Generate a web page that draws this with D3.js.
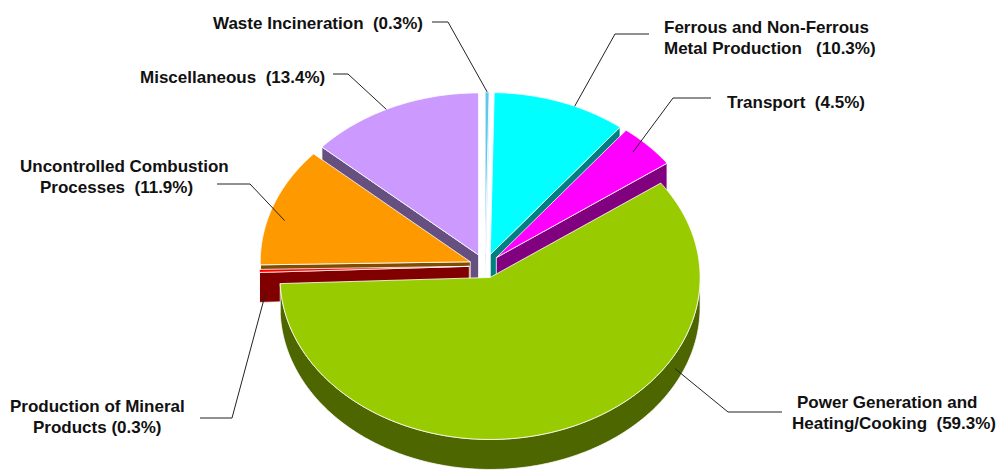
<!DOCTYPE html>
<html>
<head>
<meta charset="utf-8">
<script src="https://cdn.jsdelivr.net/npm/d3@7"></script>
<style>
  body { margin: 0; background: #fff; }
  .lbl { font-family: "Liberation Sans", Arial, sans-serif; font-weight: bold; font-size: 17px; fill: #111; white-space: pre; }
</style>
</head>
<body>
<div class="piechart"></div>
<script>
// slice data, clockwise from 12 o'clock
const categories = ["Waste Incineration", "Ferrous and Non-Ferrous Metal Production", "Transport",
  "Power Generation and Heating/Cooking", "Production of Mineral Products",
  "Uncontrolled Combustion Processes", "Miscellaneous"];
const shares = [0.3, 10.3, 4.5, 59.3, 0.3, 11.9, 13.4];
const topColors = ["#5fc8f0", "#00ffff", "#ff00ff", "#99cc00", "#ff0000", "#ff9900", "#cc99ff"];
const sideColors = ["#1f8fc0", "#008080", "#800080", "#4d6600", "#800000", "#804c00", "#665080"];

// label text: lines, last line gets the percentage
const labelLines = [["Waste Incineration"], ["Ferrous and Non-Ferrous", "Metal Production"], ["Transport"],
  ["Power Generation and", "Heating/Cooking"], ["Production of Mineral", "Products"],
  ["Uncontrolled Combustion", "Processes"], ["Miscellaneous"]];
const labelGaps = ["  ", "   ", "  ", "  ", " ", "  ", "  "];

// label layout: where the leader touches the slice, elbow, tail and text lines
const labelLayout = [
  { t: 0.5, f: 1.0, dz: 0, elbow: [448, 22], tail: [432, 22], lines: [[213, 29]] },
  { t: 0.61, f: 1.0, dz: 0, elbow: [615, 34], tail: [649, 34], lines: [[664, 33], [664, 54]] },
  { t: 0.42, f: 0.92, dz: 0, elbow: [673, 98], tail: [711, 98], lines: [[727, 108]] },
  { t: 0.30, f: 1.0, dz: 14, elbow: [728, 412], tail: [782, 412], lines: [[797, 408], [792, 429]] },
  { t: 0.5, f: 0.97, dz: 22, elbow: [232, 418], tail: [200, 418], lines: [[10, 412], [33, 433]] },
  { t: 0.40, f: 0.92, dz: 0, elbow: [250, 184], tail: [217, 184], lines: [[20, 172], [40, 193]] },
  { t: 0.46, f: 1.0, dz: 0, elbow: [348, 74], tail: [333, 74], lines: [[140, 83]] }
];

const width = 1000, height = 470;
const cx = 485, cy = 266, rx = 210, ry = 162, depth = 30, explode = 15.7;

const svg = d3.select(".piechart").append("svg")
  .attr("width", width)
  .attr("height", height);

const pie = d3.pie().sort(null).value(d => d);
const slices = pie(shares).map((p, i) => {
  const mid = (p.startAngle + p.endAngle) / 2;
  return {
    i: i, a0: p.startAngle, a1: p.endAngle, mid: mid,
    dx: explode * Math.sin(mid),
    dy: -explode * Math.cos(mid) * (ry / rx)
  };
});

// projected point of slice s at angle a, radius fraction f, drop z
function pt(s, a, f, z) {
  return [cx + s.dx + rx * f * Math.sin(a), cy + s.dy - ry * f * Math.cos(a) + z];
}
function arcPts(s, a, b, z) {
  const n = Math.max(2, Math.ceil(Math.abs(b - a) / 0.01));
  const out = [];
  for (let k = 0; k <= n; k++) out.push(pt(s, a + (b - a) * k / n, 1, z));
  return out;
}
const line = d3.line().curve(d3.curveLinearClosed);

const walls = svg.append("g").attr("class", "walls");
const tops = svg.append("g").attr("class", "tops");

// back slices first
const order = slices.slice().sort((a, b) => a.dy - b.dy);

order.forEach(s => {
  const c = sideColors[s.i];
  const v0 = pt(s, 0, 0, 0), v1 = pt(s, 0, 0, depth);
  // start cut face
  if (Math.sin(s.a0) < 0) {
    walls.append("path")
      .attr("d", line([v0, pt(s, s.a0, 1, 0), pt(s, s.a0, 1, depth), v1]))
      .attr("fill", c).attr("stroke", "#fff").attr("stroke-width", 0.8);
  }
  // end cut face
  if (Math.sin(s.a1) > 0) {
    walls.append("path")
      .attr("d", line([v0, pt(s, s.a1, 1, 0), pt(s, s.a1, 1, depth), v1]))
      .attr("fill", c).attr("stroke", "#fff").attr("stroke-width", 0.8);
  }
  // outer curved wall (front half only)
  const lo = Math.max(s.a0, Math.PI / 2), hi = Math.min(s.a1, 3 * Math.PI / 2);
  if (hi > lo) {
    const pts = arcPts(s, lo, hi, 0).concat(arcPts(s, hi, lo, depth));
    walls.append("path")
      .attr("d", line(pts))
      .attr("fill", c).attr("stroke", "#fff").attr("stroke-width", 0.8);
  }
});

order.forEach(s => {
  tops.append("path")
    .attr("d", line([pt(s, 0, 0, 0)].concat(arcPts(s, s.a0, s.a1, 0))))
    .attr("fill", topColors[s.i])
    .attr("stroke", "#fff")
    .attr("stroke-width", 0.8);
});

// labels and leader lines
const labels = svg.append("g").attr("class", "labels");
slices.forEach(s => {
  const L = labelLayout[s.i];
  const a = s.a0 + (s.a1 - s.a0) * L.t;
  const end = pt(s, a, L.f, L.dz);
  labels.append("path")
    .attr("d", d3.line()([L.tail, L.elbow, end]))
    .attr("fill", "none")
    .attr("stroke", "#222")
    .attr("stroke-width", 1);

  const lines = labelLines[s.i].slice();
  lines[lines.length - 1] += labelGaps[s.i] + "(" + shares[s.i].toFixed(1) + "%)";
  lines.forEach((txt, j) => {
    labels.append("text")
      .attr("class", "lbl")
      .attr("x", L.lines[j][0])
      .attr("y", L.lines[j][1])
      .text(txt);
  });
});
</script>
</body>
</html>
